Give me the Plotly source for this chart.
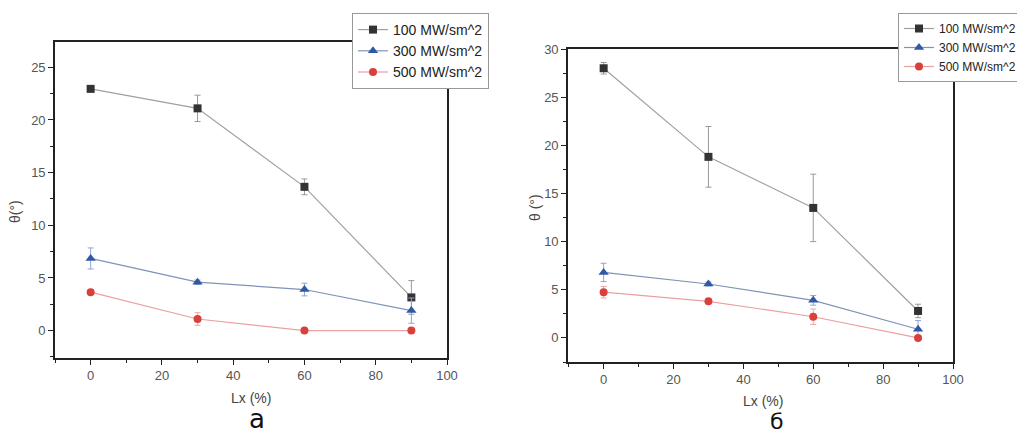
import plotly.graph_objects as go

# Lx values (%)
lx = [0, 30, 60, 90]
series_names = ["100 MW/sm^2", "300 MW/sm^2", "500 MW/sm^2"]

# Panel a: contact angle θ (°) and error
a_100 = [22.95, 21.1, 13.65, 3.15]
a_100_err = [0.15, 1.25, 0.75, 1.6]
a_300 = [6.85, 4.6, 3.9, 1.9]
a_300_err = [1.0, 0.2, 0.6, 1.2]
a_500 = [3.65, 1.1, 0.0, 0.0]
a_500_err = [0.2, 0.6, 0.1, 0.1]

# Panel б
b_100 = [28.0, 18.8, 13.5, 2.8]
b_100_err = [0.6, 3.15, 3.5, 0.7]
b_300 = [6.8, 5.6, 3.9, 0.9]
b_300_err = [0.95, 0.2, 0.5, 0.9]
b_500 = [4.75, 3.8, 2.2, 0.0]
b_500_err = [0.6, 0.2, 0.8, 0.1]

x_ticks = [0, 20, 40, 60, 80, 100]
a_y_ticks = [0, 5, 10, 15, 20, 25]
b_y_ticks = [0, 5, 10, 15, 20, 25, 30]

W, H = 1017, 437

styles = [
    dict(marker=dict(symbol="square", color="#333333", size=8),
         line=dict(color="#a0a0a0", width=1.2), err="#9a9a9a"),
    dict(marker=dict(symbol="triangle-up", color="#2f58a6", size=9),
         line=dict(color="#7f93b8", width=1.2), err="#8fa5d0"),
    dict(marker=dict(symbol="circle", color="#d9403c", size=8),
         line=dict(color="#eaa0a0", width=1.2), err="#eba7a7"),
]

fig = go.Figure()

panels = [
    (("x", "y"), "legend", [a_100, a_300, a_500], [a_100_err, a_300_err, a_500_err]),
    (("x2", "y2"), "legend2", [b_100, b_300, b_500], [b_100_err, b_300_err, b_500_err]),
]
for (xa, ya), leg, vals, errs in panels:
    for name, v, e, st in zip(series_names, vals, errs, styles):
        fig.add_trace(go.Scatter(
            x=lx, y=v, name=name, mode="lines+markers",
            xaxis=xa, yaxis=ya, legend=leg,
            marker=st["marker"], line=st["line"],
            error_y=dict(type="data", array=e, color=st["err"],
                         thickness=1, width=3),
        ))


def px_dom(a, b, total):
    return [a / total, b / total]


axis_common = dict(
    showline=True, linecolor="#222222", linewidth=1.6, mirror=True,
    ticks="outside", ticklen=5, tickwidth=1.3, tickcolor="#222222",
    showgrid=False, zeroline=False, automargin=False,
    tickfont=dict(family="Liberation Sans, Arial", size=13, color="#555555"),
)
minor_x = dict(dtick=10, ticks="outside", ticklen=3, tickcolor="#222222")
minor_y = dict(dtick=2.5, ticks="outside", ticklen=3, tickcolor="#222222")

fig.update_layout(
    width=W, height=H,
    margin=dict(l=0, r=0, t=0, b=0, autoexpand=False),
    paper_bgcolor="white", plot_bgcolor="white",
    xaxis=dict(domain=px_dom(55, 447, W), range=[-10, 100], tickvals=x_ticks,
               minor=minor_x, anchor="y", **axis_common),
    yaxis=dict(domain=[1 - 358 / H, 1 - 42 / H], range=[-2.6, 27.4], tickvals=a_y_ticks,
               minor=minor_y, anchor="x", **axis_common),
    xaxis2=dict(domain=px_dom(568, 953, W), range=[-10.2, 100], tickvals=x_ticks,
                minor=minor_x, anchor="y2", **axis_common),
    yaxis2=dict(domain=[1 - 362 / H, 1 - 49 / H], range=[-2.5, 30], tickvals=b_y_ticks,
                minor=minor_y, anchor="x2", **axis_common),
    legend=dict(x=352 / W, y=1 - 13 / H, xanchor="left", yanchor="top",
                bgcolor="white", bordercolor="#999999", borderwidth=1,
                font=dict(family="Liberation Sans, Arial", size=14, color="#222222"),
                tracegroupgap=0, itemwidth=30),
    legend2=dict(x=898 / W, y=1 - 13 / H, xanchor="left", yanchor="top",
                 bgcolor="white", bordercolor="#999999", borderwidth=1,
                 font=dict(family="Liberation Sans, Arial", size=12, color="#222222"),
                 tracegroupgap=0, itemwidth=30),
    showlegend=True,
)

title_font = dict(family="Liberation Sans, Arial", size=14, color="#444444")
label_a_font = dict(family="DejaVu Sans, Arial", size=26, color="#111111")
label_b_font = dict(family="DejaVu Sans, Arial", size=22, color="#111111")

# (text, x px, y px, angle, font)
texts = [
    ("θ(°)", 15, 212, -90, title_font),
    ("Lx (%)", 251, 398, 0, title_font),
    ("θ (°)", 535, 208, -90, title_font),
    ("Lx (%)", 763, 401, 0, title_font),
    ("а", 257, 419, 0, label_a_font),
    ("б", 777, 421, 0, label_b_font),
]
for txt, xp, yp, ang, fnt in texts:
    fig.add_annotation(x=xp / W, y=1 - yp / H, xref="paper", yref="paper",
                       xanchor="center", yanchor="middle",
                       text=txt, textangle=ang, showarrow=False, font=fnt)

fig.write_html("out.html")
